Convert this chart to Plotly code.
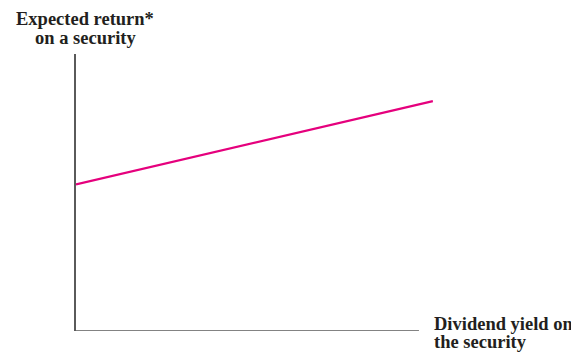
import plotly.graph_objects as go

# Data (conceptual units)
yield_x = [0.0, 10.0]          # dividend yield
expected_return = [5.29, 8.30]  # expected return
x_axis_end = 9.61
y_axis_top = 10.0

# page body has an 8px margin; work in window pixels and offset
OX, OY = 8, 8
W, H = 579 - OX, 353 - OY
L, R, T, B = 76 - OX, 440 - OX, 54 - OY, 331 - OY

def px_x(p):
    return (p - OX - L) / (R - L)

def px_y(p):
    return (B - (p - OY)) / (B - T)

fig = go.Figure()
fig.add_trace(go.Scatter(
    x=yield_x, y=expected_return, mode="lines",
    line=dict(color="#E5007D", width=2.2),
    hoverinfo="skip", showlegend=False,
))

axis_col = "#5a5a5a"
fig.add_shape(type="line", xref="x", yref="y", x0=0, x1=x_axis_end, y0=0, y1=0,
              line=dict(color=axis_col, width=1.6), layer="below")

font = dict(family="Liberation Serif, Times New Roman, serif", size=18.5, color="#231f20")
labels = [
    ("<b>Expected return*</b>", 85, 24, "center"),
    ("<b>on a security</b>", 85, 42.7, "center"),
    ("<b>Dividend yield on</b>", 433, 329, "left"),
    ("<b>the security</b>", 433, 347.3, "left"),
]
for txt, xp, base, anc in labels:
    fig.add_annotation(text=txt, xref="paper", yref="paper",
                       x=px_x(xp), y=px_y(base - 5), xanchor=anc, yanchor="middle",
                       showarrow=False, font=font, borderpad=0)

fig.update_layout(
    width=W, height=H,
    margin=dict(l=L, r=W - R, t=T, b=H - B, pad=0),
    paper_bgcolor="white", plot_bgcolor="white",
    xaxis=dict(range=[0, 10.2], showline=False, showgrid=False, zeroline=False,
               showticklabels=False, ticks=""),
    yaxis=dict(range=[0, y_axis_top], showline=True, linecolor=axis_col, linewidth=1.6,
               showgrid=False, zeroline=False, showticklabels=False, ticks="", mirror=False),
)
fig.write_html("out.html")
